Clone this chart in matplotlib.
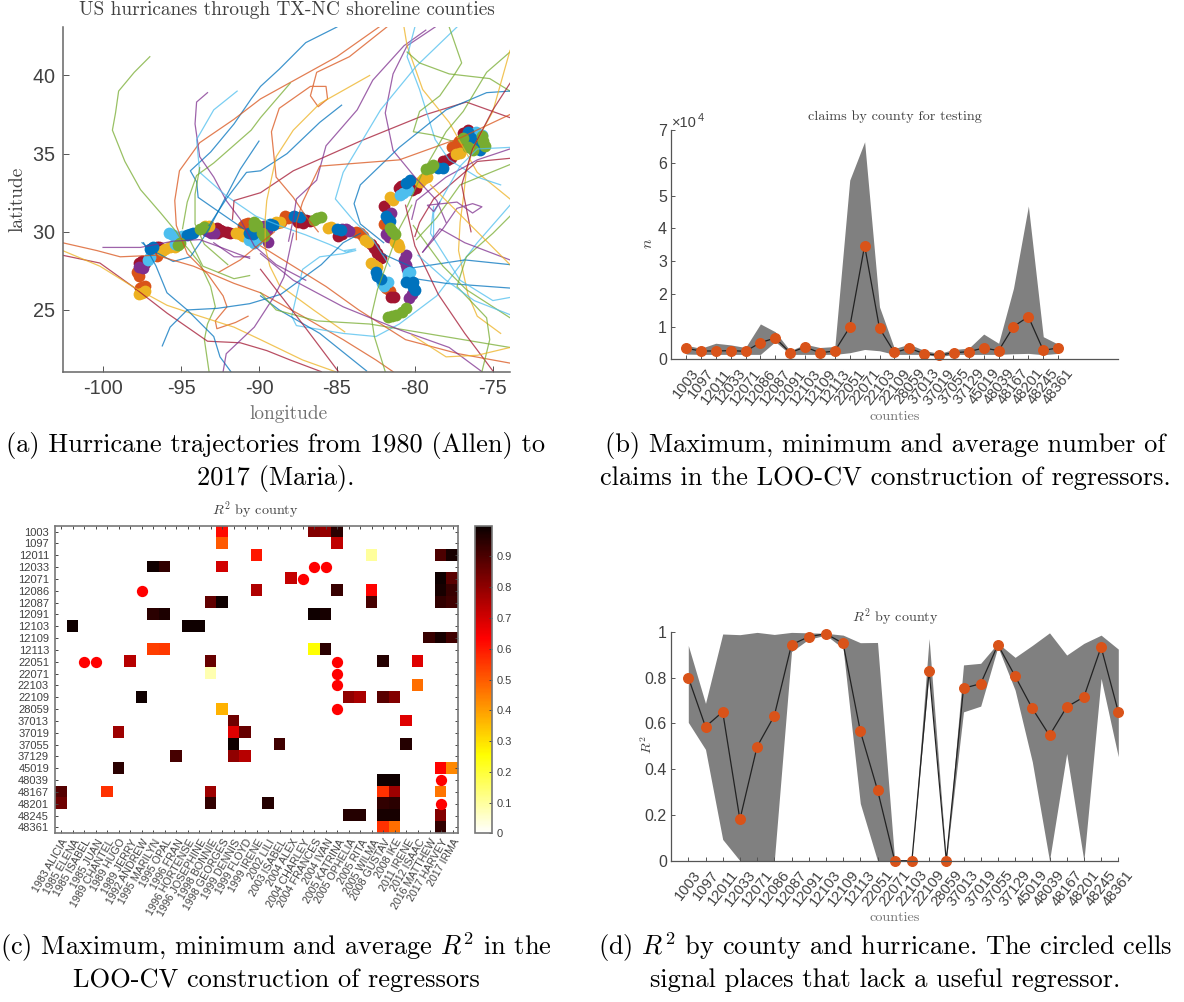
#!/usr/bin/env python3
# Four panel hurricane figure: tracks, claims by county, R2 heat map, R2 by county
import numpy as np
import matplotlib
matplotlib.use("Agg")
import matplotlib.pyplot as plt
from matplotlib.transforms import ScaledTranslation

plt.rcParams["font.family"] = ["Liberation Sans", "DejaVu Sans"]
plt.rcParams["mathtext.fontset"] = "cm"
plt.rcParams["axes.formatter.use_mathtext"] = True

W, H = 1184, 1002
TXT = "#404040"
SERIF = "cmr10"

counties = ["1003", "1097", "12011", "12033", "12071", "12086", "12087", "12091", "12103",
            "12109", "12113", "22051", "22071", "22103", "22109", "28059", "37013", "37019",
            "37055", "37129", "45019", "48039", "48167", "48201", "48245", "48361"]
hurricanes = ["1983 ALICIA", "1985 ELENA", "1985 ISABEL", "1985 JUAN", "1989 CHANTEL", "1989 HUGO",
              "1989 JERRY", "1992 ANDREW", "1995 MARILYN", "1995 OPAL", "1996 FRAN", "1996 HORTENSE",
              "1996 JOSEPHINE", "1998 BONNIE", "1998 GEORGES", "1999 DENNIS", "1999 FLOYD", "1999 IRENE",
              "2002 LILI", "2003 ISABEL", "2004 ALEX", "2004 CHARLEY", "2004 FRANCES", "2004 IVAN",
              "2005 KATRINA", "2005 OPHELIA", "2005 RITA", "2005 WILMA", "2008 GUSTAV", "2008 IKE",
              "2011 IRENE", "2012 ISAAC", "2016 MATTHEW", "2017 HARVEY", "2017 IRMA"]

# panel b, number of claims
claims_mean = [3350, 2540, 2540, 2650, 2440, 5100, 6500, 2000, 3760, 2000, 2540, 9800, 34700, 9460,
               2100, 3350, 1730, 1220, 2000, 2340, 3460, 2640, 10000, 13000, 2750, 3460]
claims_max = [4300, 3350, 4900, 4400, 3600, 10800, 8400, 2600, 4600, 3600, 3900, 54700, 66400, 16000,
              3300, 4600, 2700, 1800, 3000, 3400, 7700, 4900, 21700, 46800, 6900, 4600]
claims_min = [1600, 1500, 1500, 1500, 1500, 1500, 5400, 1500, 1500, 1500, 1500, 2000, 3000, 2600,
              1500, 1500, 1500, 800, 1500, 1500, 1500, 1500, 1700, 1800, 1400, 1800]

# panel d, R2
r2_mean = [0.80, 0.585, 0.65, 0.18, 0.498, 0.633, 0.943, 0.978, 0.991, 0.949, 0.566, 0.309, 0, 0,
           0.83, 0, 0.753, 0.773, 0.943, 0.806, 0.665, 0.547, 0.671, 0.715, 0.933, 0.65]
r2_max = [0.94, 0.687, 0.99, 0.987, 0.997, 0.988, 0.997, 0.995, 0.993, 0.985, 0.952, 0.953, 0, 0,
          0.97, 0, 0.855, 0.862, 0.95, 0.888, 0.94, 0.995, 0.898, 0.949, 0.985, 0.924]
r2_min = [0.604, 0.486, 0.093, 0, 0, 0, 0.913, 0.967, 0.985, 0.927, 0.25, 0, 0, 0,
          0.82, 0, 0.65, 0.675, 0.934, 0.745, 0.432, 0, 0.468, 0, 0.796, 0.454]

# panel c, (county row, hurricane column, R2)
r2_cells = [
    (0, 14, .62), (0, 22, .82), (0, 23, .79), (0, 24, .95), (1, 14, .5), (1, 24, .73),
    (2, 17, .6), (2, 27, .1), (2, 33, .9), (2, 34, .98), (3, 8, .99), (3, 9, .94), (3, 14, .7),
    (4, 20, .72), (4, 33, .99), (4, 34, .88), (5, 17, .75), (5, 24, .93), (5, 27, .63),
    (5, 33, .98), (5, 34, .93), (6, 13, .87), (6, 14, .99), (6, 27, .91), (6, 33, .94), (6, 34, .92),
    (7, 8, .95), (7, 9, .97), (7, 22, .99), (7, 23, .98), (8, 1, .99), (8, 11, .99), (8, 12, .99),
    (9, 32, .93), (9, 33, .98), (9, 34, .92), (10, 8, .54), (10, 9, .55), (10, 22, .25), (10, 23, .95),
    (11, 6, .74), (11, 13, .86), (11, 28, .96), (11, 31, .68), (12, 13, .08), (13, 31, .47),
    (14, 7, .99), (14, 25, .8), (14, 26, .76), (14, 28, .88), (14, 29, .82), (15, 14, .37),
    (16, 15, .85), (16, 30, .68), (17, 5, .78), (17, 15, .68), (17, 16, .86), (18, 15, .99),
    (18, 19, .92), (18, 30, .96), (19, 10, .91), (19, 15, .8), (19, 16, .74), (20, 5, .95),
    (20, 33, .63), (20, 34, .43), (21, 28, .99), (21, 29, .99), (22, 0, .89), (22, 4, .56),
    (22, 13, .78), (22, 28, .56), (22, 29, .78), (22, 33, .46), (23, 0, .85), (23, 13, .94),
    (23, 18, .96), (23, 28, .94), (23, 29, .95), (24, 25, .96), (24, 26, .96), (24, 28, .98),
    (24, 29, .98), (24, 33, .82), (25, 28, .56), (25, 29, .47), (25, 33, .94)]
circled_rows = [3, 3, 4, 5, 11, 11, 11, 12, 13, 15, 21, 23]
circled_cols = [22, 23, 21, 7, 2, 3, 24, 24, 24, 24, 33, 33]

# panel a, hurricane tracks (lon, lat), colour number in the MATLAB order
track_colors = ["#0072BD", "#D95319", "#EDB120", "#7E2F8E", "#77AC30", "#4DBEEE", "#A2142F"]
tracks = [
    (4, [-97.0, -98.0, -99.0, -99.2, -99.4, -98.6, -97.6, -96.3, -95.3, -94.95, -93.8, -93.1, -92.8, -93.3, -93.5, -93.2],
        [41.2, 40.2, 39.0, 37.6, 36.5, 34.5, 32.7, 31.2, 30.0, 29.4, 28.0, 26.5, 25.2, 24.1, 23.1, 21.05]),
    (0, [-90.0, -91.2, -92.3, -93.2, -93.7, -94.4, -95.5, -97.0, -97.5],
        [35.8, 34.0, 31.9, 30.2, 29.4, 28.4, 28.1, 28.9, 29.3]),
    (0, [-85.0, -87.0, -88.7, -89.9, -90.5, -91.6, -93.1, -94.4, -94.0, -93.9, -92.6, -91.0],
        [43.1, 42.1, 40.4, 39.3, 38.5, 36.9, 35.1, 33.9, 33.2, 32.2, 31.3, 30.2]),
    (1, [-82.3, -85.0, -89.9, -91.6, -93.8, -95.1, -95.4, -95.3, -94.6, -93.3, -92.3, -92.05, -92.8, -92.7, -91.5, -90.7],
        [43.1, 41.2, 38.5, 37.2, 35.7, 33.9, 32.0, 30.4, 28.6, 27.3, 25.9, 25.2, 24.3, 23.8, 24.2, 24.6]),
    (4, [-88.0, -89.9, -90.5, -92.9, -94.0, -94.6, -94.9],
        [39.5, 37.3, 36.5, 34.4, 33.6, 31.9, 30.2]),
    (3, [-93.3, -94.0, -94.1, -93.8, -92.9, -92.1, -91.2, -90.3, -88.9, -87.0],
        [38.9, 38.3, 36.9, 34.8, 33.5, 32.0, 30.8, 29.1, 27.9, 26.9]),
    (5, [-91.4, -92.9, -94.0, -93.8, -92.1, -90.2, -88.7, -87.0, -85.5, -84.4, -83.8, -84.5],
        [39.0, 37.8, 35.9, 33.8, 32.3, 31.0, 30.4, 29.8, 29.2, 28.7, 28.9, 28.8]),
    (4, [-93.8, -94.1, -94.1, -93.5, -92.0], [34.1, 32.4, 30.5, 29.2, 27.9]),
    (0, [-84.7, -86.1, -88.2, -89.9, -90.8, -92.1, -93.2], [38.1, 37.0, 35.0, 33.9, 33.8, 32.1, 30.4]),
    (6, [-73.9, -76.7, -79.3, -83.5, -87.8, -89.9, -91.6, -91.7], [37.3, 38.3, 37.5, 35.8, 33.9, 32.5, 32.0, 30.8]),
    (1, [-81.8, -84.2, -86.3, -86.7, -86.2, -85.6, -85.7, -86.7, -88.7, -89.2, -88.9, -87.8, -87.0, -86.2],
        [43.1, 41.2, 40.2, 38.7, 38.0, 38.5, 39.3, 39.3, 37.9, 36.4, 33.5, 32.2, 31.0, 30.0]),
    (2, [-82.9, -86.1, -87.8, -88.9, -89.5, -89.6, -89.6, -89.3, -88.7, -86.5, -84.5],
        [40.0, 38.2, 36.5, 34.8, 32.0, 30.8, 29.0, 27.8, 26.6, 25.0, 23.6]),
    (3, [-78.7, -80.5, -81.4, -81.9, -81.4, -80.0, -78.6, -78.0], [43.1, 41.9, 40.1, 37.6, 35.2, 33.5, 32.0, 30.6]),
    (3, [-79.3, -80.7, -82.7, -83.7, -85.7, -86.3, -87.6, -87.8, -88.1], [42.9, 41.9, 39.7, 37.8, 35.5, 33.3, 32.1, 30.8, 29.4]),
    (2, [-80.7, -80.5, -79.5, -77.8, -76.0, -73.9], [43.1, 41.9, 39.1, 37.0, 33.8, 32.1]),
    (5, [-80.0, -80.5, -79.7, -78.7, -77.8, -76.0, -74.5], [43.1, 41.2, 39.1, 35.9, 34.6, 33.5, 33.0]),
    (5, [-77.3, -79.9, -82.2, -84.6, -85.1, -84.0, -82.7, -81.6], [43.1, 40.6, 37.8, 33.8, 32.1, 30.8, 29.5, 27.8]),
    (4, [-80.5, -79.7, -77.8, -75.2, -73.9], [41.5, 40.8, 40.1, 39.8, 39.0]),
    (4, [-77.8, -77.0, -77.5, -78.4, -79.7, -80.1, -78.9, -77.6], [43.1, 40.8, 40.0, 38.7, 37.7, 36.4, 36.2, 35.8]),
    (0, [-73.9, -75.4, -78.0, -81.0, -83.5, -83.9, -83.5, -82.0], [39.0, 38.9, 37.8, 35.4, 33.0, 31.8, 30.5, 29.3]),
    (1, [-73.9, -77.1, -81.0, -86.1, -87.2, -87.6, -87.6], [37.5, 36.0, 34.6, 34.2, 31.9, 30.6, 29.5]),
    (4, [-73.9, -75.4, -76.9, -78.0, -79.5, -80.5], [41.5, 40.2, 37.7, 36.4, 33.8, 31.6]),
    (2, [-73.9, -75.0, -76.2, -76.7, -76.9, -77.1, -77.2, -76.6, -76.0, -74.5], [41.6, 37.7, 35.5, 33.9, 32.1, 30.6, 28.8, 26.0, 24.6, 23.5]),
    (6, [-102.6, -100.2, -98.1, -95.9, -93.3, -91.2, -89.5, -88.0, -86.0], [28.5, 28.0, 26.5, 24.8, 23.0, 22.9, 22.4, 21.8, 21.05]),
    (2, [-102.6, -100.2, -98.1, -95.9, -93.8, -91.6, -89.9, -87.2, -85.1], [28.8, 27.8, 26.5, 25.3, 24.6, 23.9, 23.1, 21.8, 21.05]),
    (1, [-102.6, -100.4, -98.9, -96.6, -94.2, -91.6, -89.9, -87.2, -84.6, -82.5, -81.4], [29.3, 28.8, 28.4, 28.5, 27.8, 26.7, 26.1, 24.6, 23.1, 21.8, 21.05]),
    (3, [-100.0, -97.6, -95.5, -93.8, -92.7, -90.6], [29.0, 29.0, 29.4, 29.5, 29.1, 28.3]),
    (0, [-96.2, -95.7, -94.6, -92.7, -90.6, -88.6, -86.0, -84.6, -83.5], [22.7, 23.9, 25.0, 25.1, 25.4, 26.0, 27.9, 29.3, 29.9]),
    (0, [-97.4, -96.6, -95.9, -94.6, -92.9, -92.5, -91.8], [29.3, 27.8, 26.1, 25.0, 23.3, 22.0, 21.05]),
    (3, [-92.3, -92.1, -90.3, -89.0, -88.4, -87.8], [21.05, 22.2, 23.9, 25.9, 27.1, 29.9]),
    (5, [-83.8, -84.6, -86.1, -87.2, -87.9, -87.6, -84.6, -82.5, -81.0, -78.6, -76.0, -73.9],
        [28.8, 28.6, 28.4, 27.6, 24.6, 24.0, 23.5, 23.3, 24.1, 25.9, 29.3, 31.7]),
    (0, [-89.9, -88.7, -86.1, -83.1], [25.9, 25.0, 23.5, 21.1]),
    (0, [-80.0, -78.0, -73.9], [27.0, 26.7, 26.4]),
    (0, [-82.1, -80.1, -76.8, -73.9], [28.6, 27.7, 28.2, 27.9]),
    (4, [-89.9, -88.9, -86.3, -82.9, -73.9], [26.1, 25.0, 24.3, 24.1, 22.6]),
    (4, [-73.9, -76.7, -78.2, -80.1], [24.5, 26.3, 27.8, 30.4]),
    (4, [-80.2, -81.0, -82.4, -82.8, -82.6, -81.9], [31.7, 30.2, 26.3, 24.6, 23.3, 21.05]),
    (6, [-80.6, -80.0, -78.5, -76.8, -75.0], [31.7, 29.1, 26.0, 23.5, 21.1]),
    (5, [-73.9, -75.0, -77.1, -79.0, -78.8], [25.8, 25.6, 26.9, 29.9, 31.6]),
    (1, [-73.9, -77.2, -80.6, -83.6, -85.7, -87.8, -89.9], [21.6, 22.2, 23.1, 25.0, 26.5, 27.8, 29.1]),
    (3, [-75.7, -77.8, -80.9, -84.6, -87.8, -89.9], [21.05, 22.6, 23.7, 25.2, 26.9, 28.6]),
    (6, [-89.9, -87.2, -84.9], [27.6, 24.1, 21.05]),
    (4, [-73.9, -75.0, -76.7, -77.3, -75.4, -75.2, -75.7], [31.0, 29.9, 28.4, 26.5, 24.5, 23.1, 21.05]),
    (5, [-73.9, -76.2, -78.0, -79.8], [24.7, 25.6, 26.9, 28.5]),
    (3, [-73.9, -76.0, -78.0, -79.9, -80.2], [35.3, 34.6, 33.5, 32.0, 30.8]),
    (6, [-73.9, -76.0, -78.8, -79.7, -80.0], [34.7, 34.5, 32.1, 30.6, 29.7]),
    (4, [-73.9, -77.1, -78.6, -79.9], [34.3, 33.0, 30.9, 29.5]),
    (5, [-73.9, -76.0, -77.1, -78.8, -78.8], [35.4, 35.3, 34.2, 31.2, 29.5]),
    (6, [-73.9, -75.0, -76.3, -77.0, -76.4], [39.5, 37.8, 35.3, 33.0, 30.0]),
    (3, [-79.5, -78.2, -77.3, -76.3, -75.7, -76.3, -77.3, -79.2, -78.8, -78.4], [28.7, 30.2, 31.5, 31.8, 31.6, 31.2, 31.9, 31.7, 31.3, 31.9]),
    (1, [-92.6, -91.2, -90.1, -89.0], [27.4, 28.2, 29.1, 30.0]),
    (3, [-92.9, -91.6, -90.6], [29.3, 28.4, 28.4]),
    (4, [-94.4, -93.6, -91.6, -90.6], [29.4, 27.8, 27.0, 27.2]),
    (3, [-73.9, -76.8, -78.4, -79.5], [28.2, 29.3, 30.2, 28.7]),
    (2, [-73.9, -76.0, -78.0, -80.2], [22.6, 22.1, 22.0, 23.4]),
    (2, [-73.9, -75.5, -77.5, -79.0], [27.9, 29.5, 31.5, 33.0]),
]

# panel a, county points along the shoreline, one pair of lists per colour
coast_orange_lon = [-97.84, -97.7, -97.5, -97.6, -97.3, -96.55, -90.9, -90.7, -91.05, -88.85, -88.6, -88.35, -88.15, -87.9, -87.5,
                    -83.55, -83.8, -83.35, -82.0, -81.6, -81.85, -77.35, -77.1, -77.6, -77.2, -76.9]
coast_orange_lat = [27.4, 27.2, 26.5, 26.4, 26.55, 28.45, 30.5, 30.55, 30.35, 30.55, 30.6, 31.0, 30.9, 30.95, 30.9,
                    29.9, 30.0, 29.75, 30.5, 26.2, 26.4, 35.55, 35.3, 35.4, 35.8, 35.6]
coast_red_lon = [-97.7, -97.3, -97.5, -97.5, -96.55, -96.4, -92.7, -92.7, -92.05, -92.35, -92.5, -91.85, -87.0, -86.7, -87.2, -87.5,
                 -84.9, -84.7, -82.8, -82.6, -82.4, -82.2, -81.55, -81.35, -81.95, -81.05, -80.9, -79.9, -80.2, -77.95, -77.7, -78.2,
                 -76.9, -76.6, -76.3]
coast_red_lat = [28.0, 28.0, 28.1, 27.85, 29.0, 29.05, 30.25, 29.95, 30.0, 30.05, 30.1, 29.95, 30.75, 30.7, 30.55, 30.6,
                 29.7, 29.85, 29.2, 28.95, 28.65, 28.3, 25.85, 25.85, 31.65, 32.8, 32.95, 32.8, 32.7, 34.6, 34.75, 34.5,
                 36.3, 36.5, 36.2]
coast_purple_lon = [-97.45, -97.7, -93.1, -93.35, -92.9, -89.7, -89.4, -89.5, -84.45, -84.2, -84.65, -81.55, -81.7, -81.85, -81.65,
                    -80.7, -80.6, -80.55, -80.5, -80.35, -80.2, -76.5]
coast_purple_lat = [27.7, 27.75, 29.95, 30.05, 29.9, 30.35, 29.35, 30.1, 30.15, 30.05, 30.2, 31.2, 31.0, 29.85, 29.65,
                    28.2, 27.9, 28.5, 27.6, 25.75, 26.0, 35.8]
coast_amber_lon = [-97.5, -97.7, -97.3, -96.2, -96.0, -95.7, -95.4, -93.45, -93.2, -91.2, -91.5, -91.0, -88.9, -88.65, -85.6, -85.35,
                   -83.2, -83.0, -82.6, -82.8, -82.4, -81.1, -81.0, -81.25, -81.4, -81.6, -79.45, -79.7, -79.2, -77.35, -77.1, -76.2]
coast_amber_lat = [26.1, 26.0, 26.2, 28.8, 28.9, 29.0, 29.0, 30.35, 30.4, 29.85, 29.95, 29.75, 30.6, 30.65, 30.25, 30.3,
                   29.5, 29.35, 27.9, 28.0, 27.75, 29.2, 29.0, 29.35, 32.05, 32.2, 33.35, 33.2, 33.5, 34.95, 35.05, 35.7]
coast_lightblue_lon = [-97.0, -97.1, -95.5, -95.2, -95.8, -95.4, -94.95, -90.65, -90.45, -90.35, -90.1, -81.95, -82.1, -81.75,
                       -80.45, -80.3, -80.45, -80.75, -80.95, -80.45, -76.05, -75.7]
coast_lightblue_lat = [28.4, 28.2, 29.8, 29.6, 29.9, 29.2, 29.75, 29.5, 29.65, 29.3, 29.5, 26.55, 26.75, 26.8,
                       27.35, 27.45, 27.15, 32.5, 32.35, 32.65, 36.4, 36.2]
coast_blue_lon = [-97.0, -96.8, -94.2, -94.4, -94.6, -90.65, -90.4, -89.3, -89.1, -87.75, -87.4, -85.0, -84.75, -82.4, -82.5, -82.2,
                  -81.75, -81.6, -81.85, -80.55, -80.15, -80.0, -80.15, -80.55, -80.3, -78.2, -78.5, -75.8, -75.9, -76.6, -76.4]
coast_blue_lat = [28.9, 29.0, 29.95, 29.85, 29.8, 29.95, 29.85, 30.5, 30.45, 31.0, 30.95, 30.15, 30.1, 27.15, 27.4, 26.95,
                  30.8, 30.7, 31.0, 26.8, 26.5, 26.3, 26.8, 33.15, 33.3, 34.1, 34.05, 35.25, 35.5, 36.4, 36.0]
coast_green_lon = [-95.05, -95.2, -93.75, -93.55, -90.35, -90.35, -90.1, -89.8, -89.65, -86.25, -86.0, -86.45, -81.45, -81.3, -81.6,
                   -80.6, -80.85, -81.2, -81.45, -81.75, -79.05, -78.85, -79.3, -76.25, -76.6, -75.6, -75.5, -75.7, -76.9]
coast_green_lat = [29.3, 29.15, 30.15, 30.3, 30.6, 30.35, 30.45, 29.95, 29.75, 30.9, 30.95, 30.75, 30.05, 29.85, 30.25,
                   25.1, 24.9, 24.7, 24.6, 24.55, 34.1, 34.3, 34.0, 35.25, 35.4, 35.8, 35.5, 36.1, 36.0]


def px_axes(left, top, right, bottom):
    return fig.add_axes([left / W, 1 - bottom / H, (right - left) / W, (bottom - top) / H])


def fig_text(x, y, s, size, color="black", **kw):
    fig.text(x / W, 1 - y / H, s, fontsize=size, color=color, ha="center", va="center",
             family=SERIF, **kw)


def county_panel(ax, mean, low, high, xmax, ymax):
    xs = np.arange(1, len(counties) + 1)
    ax.fill_between(xs, low, high, color="#808080", lw=0)
    ax.plot(xs, mean, color="#222222", lw=0.9, marker="o", mfc="#D95319", mec="#D95319", ms=6.9, clip_on=False)
    ax.set_xlim(0, xmax)
    ax.set_ylim(0, ymax)
    ax.set_xticks(xs)
    ax.set_xticklabels(counties, rotation=52, ha="center", fontsize=10.6, color=TXT)
    ax.tick_params(axis="x", length=3, direction="in", width=0.7, color="#555555", pad=5)
    ax.tick_params(axis="y", length=3, direction="in", width=0.7, color="#555555", labelsize=11.5, labelcolor=TXT, pad=3)
    for side in ("top", "right"):
        ax.spines[side].set_visible(False)
    for side in ("left", "bottom"):
        ax.spines[side].set_color("#555555")
        ax.spines[side].set_linewidth(0.9)


fig = plt.figure(figsize=(W / 100, H / 100), dpi=100)

# (a) tracks
ax = px_axes(62.5, 27, 510, 371.7)
for lons, lats, c in [(coast_orange_lon, coast_orange_lat, 1), (coast_red_lon, coast_red_lat, 6),
                      (coast_purple_lon, coast_purple_lat, 3), (coast_amber_lon, coast_amber_lat, 2),
                      (coast_lightblue_lon, coast_lightblue_lat, 5), (coast_blue_lon, coast_blue_lat, 0),
                      (coast_green_lon, coast_green_lat, 4)]:
    ax.scatter(lons, lats, s=72, color=track_colors[c], lw=0, zorder=1)
for c, lons, lats in tracks:
    ax.plot(lons, lats, color=track_colors[c], lw=0.9, alpha=0.75, zorder=2, solid_joinstyle="round")
ax.set_xlim(-102.6, -73.9)
ax.set_ylim(21.05, 43.1)
ax.set_xticks([-100, -95, -90, -85, -80, -75])
ax.set_xticklabels(["-100", "-95", "-90", "-85", "-80", "-75"])
ax.set_yticks([25, 30, 35, 40])
ax.tick_params(length=4, direction="in", width=0.7, color="#555555", labelsize=14.3, labelcolor=TXT, pad=5)
for side in ("top", "right"):
    ax.spines[side].set_visible(False)
for side in ("left", "bottom"):
    ax.spines[side].set_color("#666666")
    ax.spines[side].set_linewidth(1.1)
fig_text(287, 10, "US hurricanes through TX-NC shoreline counties", 13.9, TXT)
fig_text(288, 414, "longitude", 13.9, "#707070")
fig_text(17, 199, "latitude", 13.9, TXT, rotation=90)

# (b) claims
ax = px_axes(671.1, 130, 1117.7, 359.3)
county_panel(ax, claims_mean, claims_min, claims_max, 30, 70000)
ax.set_yticks(np.arange(0, 70001, 10000))
ax.set_yticklabels([str(i) for i in range(8)])
fig.text(672 / W, 1 - 127 / H, "\u00d710", fontsize=10.5, color=TXT, ha="left", va="baseline")
fig.text(698 / W, 1 - 121 / H, "4", fontsize=8, color=TXT, ha="left", va="baseline")
fig_text(895, 117, "claims by county for testing", 10.2, TXT)
fig_text(895, 417, "counties", 10.2, "#707070")
fig.text(647 / W, 1 - 243 / H, r"$n$", fontsize=11.5, color=TXT, rotation=90, ha="center", va="center")

# (c) heat map
ax = px_axes(55.3, 525.7, 458.3, 833.3)
r2_grid = np.full((len(counties), len(hurricanes)), np.nan)
for row, col, val in r2_cells:
    r2_grid[row, col] = val
im = ax.imshow(r2_grid, cmap="hot_r", vmin=0, vmax=1, aspect="auto", interpolation="nearest")
ax.scatter(circled_cols, circled_rows, s=66, color="#FF0000", lw=0, zorder=3)
ax.set_xticks(np.arange(len(hurricanes)))
ax.set_xticklabels(hurricanes, rotation=60, ha="right", fontsize=7.7, color=TXT)
ax.set_yticks(np.arange(len(counties)))
ax.set_yticklabels(counties, fontsize=8, color=TXT)
ax.tick_params(length=2.5, direction="in", width=0.7, color="#444444", top=True, right=True, pad=4.5)
ax.tick_params(axis="x", pad=3)
shift = ScaledTranslation(9 / 100, 0, fig.dpi_scale_trans)
for lab in ax.get_xticklabels():
    lab.set_transform(lab.get_transform() + shift)
for spine in ax.spines.values():
    spine.set_color("#777777")
    spine.set_linewidth(1.2)
cax = px_axes(475, 525.7, 492.3, 833.3)
cb = fig.colorbar(im, cax=cax)
cb.set_ticks(np.arange(0, 1.0, 0.1))
cb.set_ticklabels(["0", "0.1", "0.2", "0.3", "0.4", "0.5", "0.6", "0.7", "0.8", "0.9"])
cax.tick_params(length=2.5, direction="in", width=0.7, color="#444444", labelsize=8, labelcolor=TXT, pad=3)
cb.outline.set_edgecolor("#777777")
cb.outline.set_linewidth(1.2)
fig_text(255, 511, r"$R^2$ by county", 10.2, TXT)

# (d) R2 by county
ax = px_axes(671.1, 631.7, 1118.3, 860.7)
county_panel(ax, r2_mean, r2_min, r2_max, 26, 1)
ax.set_yticks([0, 0.2, 0.4, 0.6, 0.8, 1])
ax.set_yticklabels(["0", "0.2", "0.4", "0.6", "0.8", "1"])
fig_text(895, 618, r"$R^2$ by county", 10.2, TXT)
fig_text(895, 918, "counties", 10.2, "#707070")
fig.text(647 / W, 1 - 745 / H, r"$R^2$", fontsize=10, color=TXT, rotation=90, ha="center", va="center")

# captions
fig_text(276, 445, "(a) Hurricane trajectories from 1980 (Allen) to", 19)
fig_text(276, 478, "2017 (Maria).", 19)
fig_text(885, 445, "(b) Maximum, minimum and average number of", 19)
fig_text(885, 478, "claims in the LOO-CV construction of regressors.", 19)
fig_text(276, 947, r"(c) Maximum, minimum and average $R^2$ in the", 19)
fig_text(276, 980, "LOO-CV construction of regressors", 19)
fig_text(885, 947, r"(d) $R^2$ by county and hurricane. The circled cells", 19)
fig_text(885, 980, "signal places that lack a useful regressor.", 19)

fig.savefig("out.png", dpi=100, facecolor="white")
